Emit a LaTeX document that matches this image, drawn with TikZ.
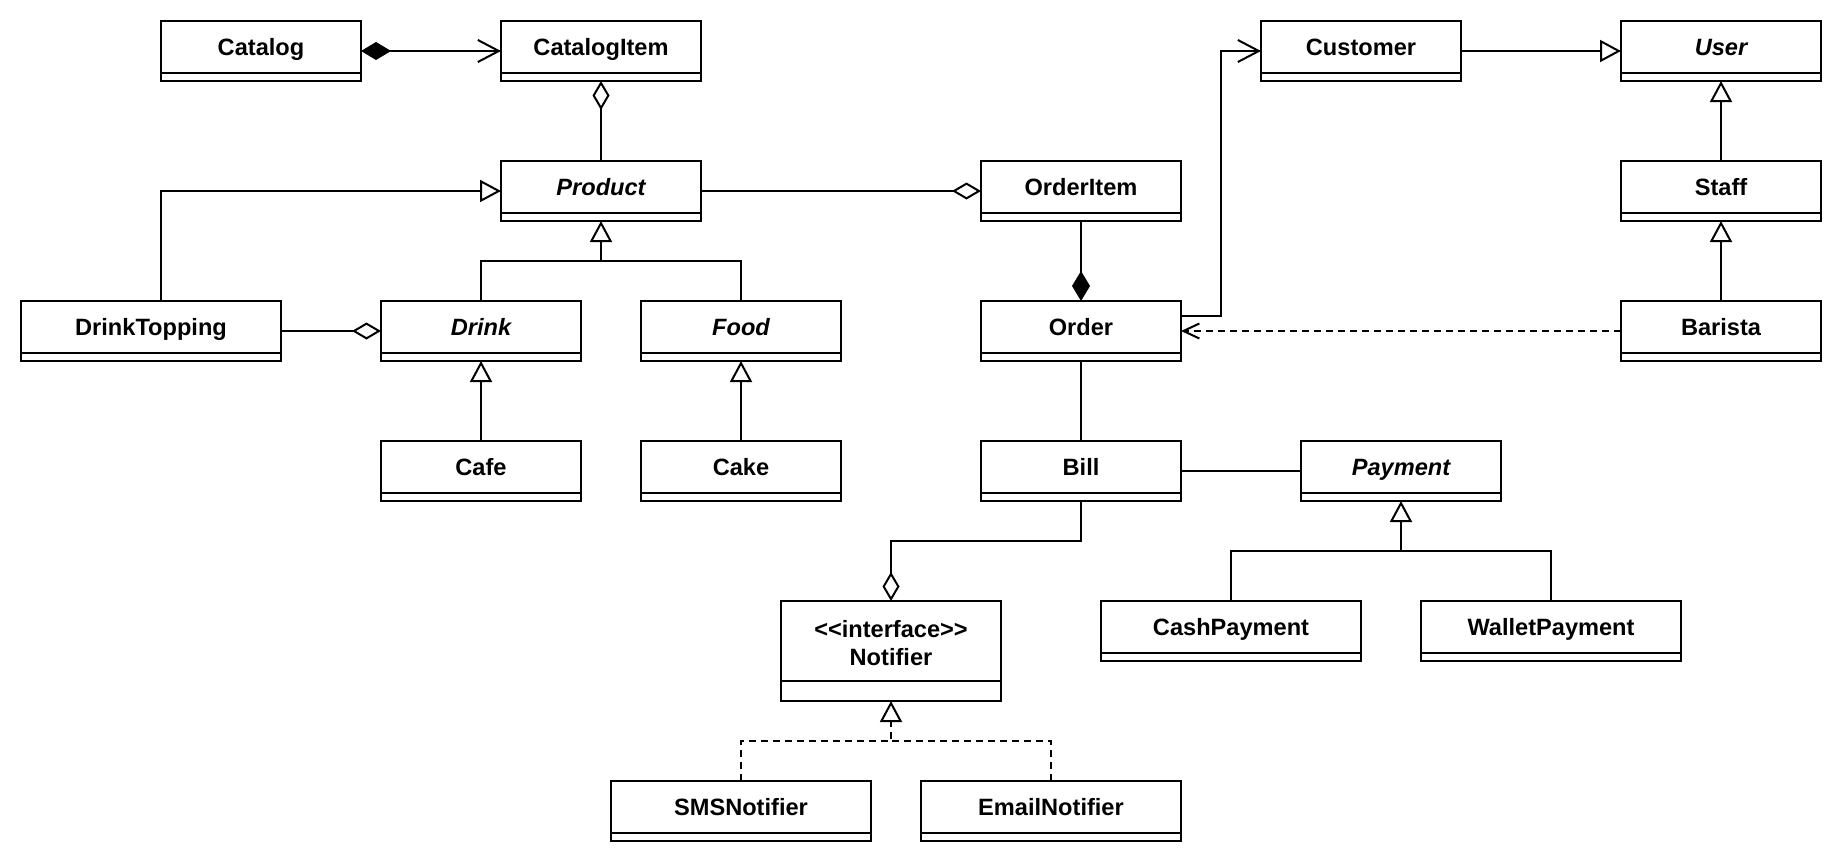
\documentclass[tikz,border=0pt]{standalone}
\usepackage{fontspec}
\setmainfont{Liberation Sans}
\usetikzlibrary{arrows.meta,calc}
\begin{document}
\begin{tikzpicture}[x=0.5pt,y=-0.5pt,
  cls/.style={draw, line width=1pt, anchor=north west, outer sep=0pt,
    inner xsep=2pt, inner ysep=0pt, minimum width=100pt,
    text height=17.25pt, text depth=12.75pt,
    font=\fontsize{11.8pt}{14pt}\selectfont\bfseries, fill=white},
  wide/.style={minimum width=130pt},
  abstr/.style={font=\fontsize{11.8pt}{14pt}\selectfont\bfseries\itshape},
  conn/.style={line width=1pt, line join=miter},
  dsh/.style={dash pattern=on 3.5pt off 2.5pt},
  gen/.style={conn, -{Triangle[open, length=10.5pt, width=11pt]}},
  agg/.style={conn, -{Diamond[open, length=14.5pt, width=8.5pt]}},
  comp/.style={conn, -{Diamond[length=15pt, width=9pt]}},
  nav/.style={conn, -{Straight Barb[length=10.5pt, width=11pt]}},
  dep/.style={conn, dsh, -{Straight Barb[length=8pt, width=7.5pt]}}
]
\fill[white] (0,0) rectangle (1842,862);
\useasboundingbox (0,0) rectangle (1842,862);

% row 1
\node[cls] (catalog) at (161,21) {Catalog};
\node[cls] (catalogitem) at (501,21) {CatalogItem};
\node[cls] (customer) at (1261,21) {Customer};
\node[cls, abstr] (user) at (1621,21) {User};
% row 2
\node[cls, abstr] (product) at (501,161) {Product};
\node[cls] (orderitem) at (981,161) {OrderItem};
\node[cls] (staff) at (1621,161) {Staff};
% row 3
\node[cls, wide] (drinktopping) at (21,301) {DrinkTopping};
\node[cls, abstr] (drink) at (381,301) {Drink};
\node[cls, abstr] (food) at (641,301) {Food};
\node[cls] (order) at (981,301) {Order};
\node[cls] (barista) at (1621,301) {Barista};
% row 4
\node[cls] (cafe) at (381,441) {Cafe};
\node[cls] (cake) at (641,441) {Cake};
\node[cls] (bill) at (981,441) {Bill};
\node[cls, abstr] (payment) at (1301,441) {Payment};
% row 5
\node[cls, minimum width=110pt, align=center, text height=32pt, text depth=18pt] (notifier) at (781,601) {<\kern0pt<interface>\kern0pt>\\Notifier};
\node[cls, wide] (cashpayment) at (1101,601) {CashPayment};
\node[cls, wide] (walletpayment) at (1421,601) {WalletPayment};
% row 6
\node[cls, wide] (smsnotifier) at (611,781) {SMSNotifier};
\node[cls, wide] (emailnotifier) at (921,781) {EmailNotifier};

% compartment dividers
\foreach \n in {catalog,catalogitem,customer,user,product,orderitem,staff,
  drinktopping,drink,food,order,barista,cafe,cake,bill,payment,
  cashpayment,walletpayment,smsnotifier,emailnotifier}
  \draw[line width=1pt] ([yshift=4pt]\n.south west) -- ([yshift=4pt]\n.south east);
\draw[line width=1pt] ([yshift=10pt]notifier.south west) -- ([yshift=10pt]notifier.south east);

% connectors
\draw[conn, {Diamond[length=15pt, width=9pt]}-{Straight Barb[length=10.5pt, width=11pt]}] (catalog.east) -- (catalogitem.west);
\draw[conn, {Diamond[open, length=14.5pt, width=8.5pt]}-] (catalogitem.south) -- (product.north);
\draw[gen] ([xshift=5pt]drinktopping.north) |- (product.west);
\draw[agg] (product.east) -- (orderitem.west);

\coordinate (pj) at ([yshift=-20pt]product.south);
\draw[gen] (drink.north) |- (pj) -- (product.south);
\draw[conn] (food.north) |- (pj);

\draw[agg] (drinktopping.east) -- (drink.west);
\draw[gen] (cafe.north) -- (drink.south);
\draw[gen] (cake.north) -- (food.south);

\draw[comp] (orderitem.south) -- (order.north);
\draw[nav] ([yshift=7.5pt]order.east) -- ++(20pt,0) |- (customer.west);
\draw[gen] (customer.east) -- (user.west);
\draw[gen] (staff.north) -- (user.south);
\draw[gen] (barista.north) -- (staff.south);
\draw[dep] (barista.west) -- (order.east);

\draw[conn] (order.south) -- (bill.north);
\draw[conn] (bill.east) -- (payment.west);

\coordinate (payj) at ([yshift=-25pt]payment.south);
\draw[gen] (cashpayment.north) |- (payj) -- (payment.south);
\draw[conn] (walletpayment.north) |- (payj);

\draw[agg] (bill.south) -- ++(0,-20pt) -| (notifier.north);

\coordinate (nj) at ([yshift=-20pt]notifier.south);
\draw[gen, dsh] (smsnotifier.north) |- (nj) -- (notifier.south);
\draw[conn, dsh] (emailnotifier.north) |- (nj);
\end{tikzpicture}
\end{document}
